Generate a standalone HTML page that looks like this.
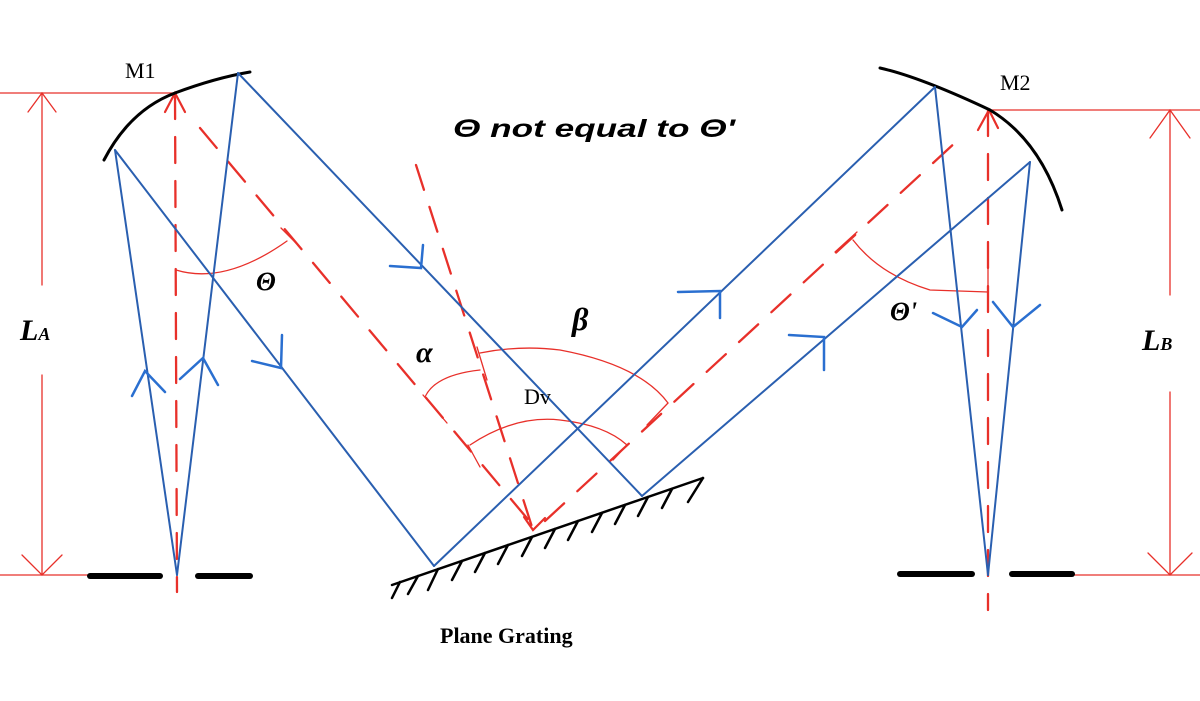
<!DOCTYPE html>
<html><head><meta charset="utf-8"><style>
html,body{margin:0;padding:0;background:#fff;}
svg{display:block;}
</style></head><body>
<svg width="1200" height="701" viewBox="0 0 1200 701" xmlns="http://www.w3.org/2000/svg">
<g fill="none" stroke-linecap="round">
<g stroke="#e8302a" stroke-width="1.3">
<line x1="0" y1="93" x2="175" y2="93"/>
<line x1="0" y1="575" x2="90" y2="575"/>
<line x1="42" y1="93" x2="42" y2="285"/>
<line x1="42" y1="375" x2="42" y2="575"/>
<polyline points="28,112 42,93 56,112"/>
<polyline points="22,555 42,575 62,555"/>
<line x1="990" y1="110" x2="1200" y2="110"/>
<line x1="1072" y1="575" x2="1200" y2="575"/>
<line x1="1170" y1="110" x2="1170" y2="295"/>
<line x1="1170" y1="392" x2="1170" y2="575"/>
<polyline points="1150,138 1170,110 1190,138"/>
<polyline points="1148,553 1170,575 1192,553"/>
<path d="M176,270 Q225,285 287,241"/>
<line x1="281" y1="228" x2="298" y2="245"/>
<path d="M425,397 Q435,375 480,370"/>
<line x1="423" y1="395" x2="447" y2="423"/>
<line x1="477" y1="347" x2="487" y2="380"/>
<path d="M480,353 Q520,345 560,350 Q640,365 668,403"/>
<line x1="668" y1="403" x2="647" y2="425"/>
<path d="M470,445 Q515,415 560,420 Q605,425 627,445"/>
<line x1="468" y1="445" x2="480" y2="467"/>
<line x1="627" y1="445" x2="613" y2="460"/>
<path d="M853,240 Q880,275 930,290 L988,292"/>
<line x1="835" y1="252" x2="857" y2="232"/>
<line x1="988" y1="292" x2="988" y2="260"/>
</g>
<g stroke="#e8302a" stroke-width="2.3" stroke-dasharray="26 18">
<line x1="175" y1="93" x2="177" y2="592"/>
<line x1="988" y1="110" x2="988" y2="610"/>
<line x1="200" y1="128" x2="536" y2="529"/>
<line x1="416" y1="165" x2="533" y2="530"/>
<line x1="545" y1="521" x2="958" y2="140"/>
</g>
<g stroke="#e8302a" stroke-width="2.2">
<polyline points="524,517 533,530 545,518"/>
<polyline points="165,112 175,93 185,112"/>
<polyline points="978,130 989,110 998,128"/>
</g>
<g stroke="#000" stroke-width="3">
<path d="M104,160 Q130,110 175,93 Q215,78 250,72"/>
<path d="M880,68 Q920,77 990,110 Q1040,140 1062,210"/>
</g>
<g stroke="#000" stroke-width="6">
<line x1="90" y1="576" x2="160" y2="576"/>
<line x1="198" y1="576" x2="250" y2="576"/>
<line x1="900" y1="574" x2="972" y2="574"/>
<line x1="1012" y1="574" x2="1072" y2="574"/>
</g>
<g stroke="#000" stroke-width="2.5">
<line x1="392" y1="585" x2="703" y2="478"/>
<line x1="400" y1="582" x2="392" y2="598"/>
<line x1="418" y1="576" x2="408" y2="594"/>
<line x1="438" y1="569" x2="428" y2="590"/>
<line x1="462" y1="561" x2="452" y2="580"/>
<line x1="485" y1="553" x2="475" y2="572"/>
<line x1="508" y1="545" x2="498" y2="564"/>
<line x1="532" y1="537" x2="522" y2="556"/>
<line x1="555" y1="529" x2="545" y2="548"/>
<line x1="578" y1="521" x2="568" y2="540"/>
<line x1="602" y1="513" x2="592" y2="532"/>
<line x1="625" y1="505" x2="615" y2="524"/>
<line x1="648" y1="497" x2="638" y2="516"/>
<line x1="672" y1="489" x2="662" y2="508"/>
<line x1="703" y1="478" x2="688" y2="502"/>
</g>
<g stroke="#2a5fb0" stroke-width="2">
<line x1="177" y1="575" x2="115" y2="150"/>
<line x1="177" y1="575" x2="238" y2="73"/>
<line x1="115" y1="150" x2="434" y2="566"/>
<line x1="238" y1="73" x2="642" y2="496"/>
<line x1="434" y1="566" x2="935" y2="87"/>
<line x1="642" y1="496" x2="1030" y2="162"/>
<line x1="988" y1="575" x2="935" y2="87"/>
<line x1="988" y1="575" x2="1030" y2="162"/>
</g>
<g stroke="#2a6fd0" stroke-width="2.5">
<polyline points="132,396 145,371 165,392"/>
<polyline points="180,379 203,358 218,385"/>
<polyline points="252,361 281,368 282,335"/>
<polyline points="390,266 421,268 423,245"/>
<polyline points="678,292 720,291 720,318"/>
<polyline points="789,335 824,337 824,370"/>
<polyline points="933,313 962,327 977,310"/>
<polyline points="993,302 1013,327 1040,305"/>
</g>
</g>
<g font-family="'Liberation Serif', serif" fill="#000">
<text x="125" y="78" font-size="22">M1</text>
<text x="1000" y="90" font-size="22">M2</text>
<text x="440" y="643" font-size="22" font-weight="bold">Plane Grating</text>
<text x="524" y="404" font-size="22">Dv</text>
<text x="20" y="340" font-size="30" font-weight="bold" font-style="italic">L<tspan font-size="18">A</tspan></text>
<text x="1142" y="350" font-size="30" font-weight="bold" font-style="italic">L<tspan font-size="18">B</tspan></text>
<text x="256" y="290" font-size="26" font-weight="bold" font-style="italic">Θ</text>
<text x="890" y="320" font-size="26" font-weight="bold" font-style="italic">Θ'</text>
<text x="416" y="362" font-size="30" font-weight="bold" font-style="italic">α</text>
<text x="572" y="330" font-size="32" font-weight="bold" font-style="italic">β</text>
</g>
<text x="453" y="137" font-family="'Liberation Sans', sans-serif" font-size="25" font-weight="bold" font-style="italic" fill="#000" textLength="282" lengthAdjust="spacingAndGlyphs">Θ not equal to Θ'</text>
</svg>
</body></html>
